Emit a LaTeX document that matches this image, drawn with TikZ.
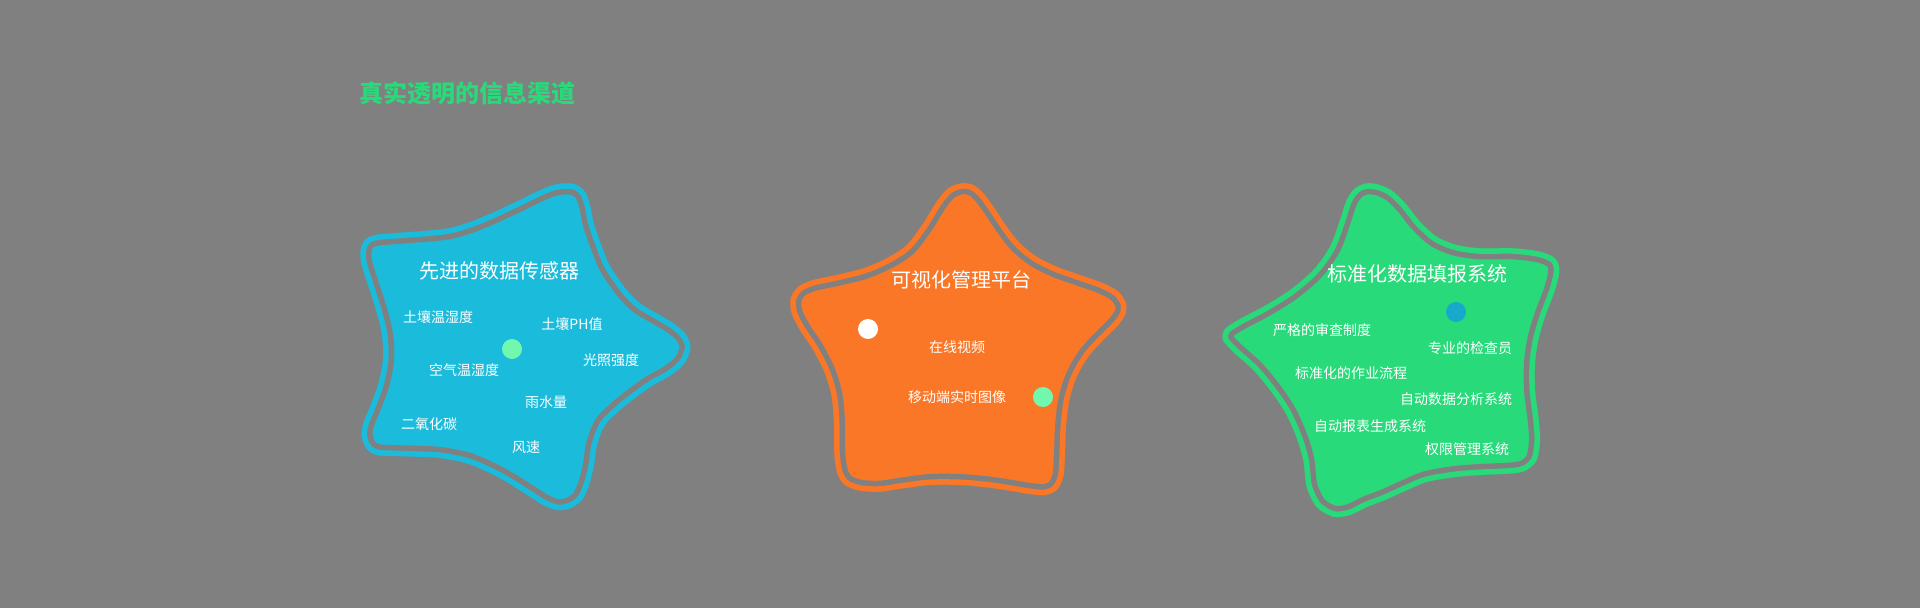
\documentclass[tikz,border=0pt]{standalone}
\usepackage{fontspec}
\setmainfont{Noto Sans CJK SC}
\definecolor{bggray}{HTML}{808080}
\definecolor{cblue}{HTML}{1BBBDB}
\definecolor{corange}{HTML}{FA7728}
\definecolor{cgreen}{HTML}{28DA7A}
\definecolor{dotgreen}{HTML}{72F8AE}
\definecolor{dotblue}{HTML}{17A9C9}
\newcommand\blobshape[2]{%
  \fill[#1] plot[smooth cycle,tension=0.5] coordinates {#2};
  \begin{scope}
    \clip plot[smooth cycle,tension=0.5] coordinates {#2};
    \draw[line width=22pt,bggray] plot[smooth cycle,tension=0.5] coordinates {#2};
    \draw[line width=11pt,#1] plot[smooth cycle,tension=0.5] coordinates {#2};
  \end{scope}}
\tikzset{
  item/.style={text=white,inner sep=0pt,font=\fontsize{14}{16}\selectfont},
  ttl/.style={text=white,inner sep=0pt,font=\fontsize{20}{24}\selectfont},
  dot/.style={circle,inner sep=0pt,minimum size=20pt}
}
\begin{document}
\begin{tikzpicture}[x=1pt,y=-1pt]
\fill[bggray] (0,0) rectangle (1920,608);
\useasboundingbox (0,0) rectangle (1920,608);
\node[anchor=west,inner sep=0pt,text=cgreen,font=\fontsize{24}{28}\selectfont\bfseries] (title) at (359,93) {真实透明的信息渠道};
% blue star
\blobshape{cblue}{(520,200) (536.7,191.7) (553.3,185) (566.7,183.3) (576.7,185) (585,191.7) (590,205) (593.3,221.7) (600,241.7) (610,266) (626.7,290) (640,303.3) (656.7,313.3) (673.3,323.3) (685,333.3) (690.5,346) (687,359) (680,368) (668,377) (653.3,385) (636.7,396.7) (620,410) (605,425) (597,445) (594,465) (589,485) (582,500) (570,508.3) (556.7,510) (543.3,505) (530,496.7) (510,484) (490,473) (466.7,463.3) (440,458) (416.7,456.7) (395,456) (377,455) (366.7,449) (361.7,436.7) (363.3,423.3) (370,406.7) (378,385) (383,360) (382,335) (376,310) (368,285) (361,262) (361,248) (366,239) (375,235) (390,233.5) (410,232) (430,230.5) (450,228) (470,222) (490,214) (505,207)}
\node[ttl] (b0) at (499,271) {先进的数据传感器};
\node[item] (b1) at (438,317) {土壤温湿度};
\node[item] (b2) at (572,324) {土壤PH值};
\node[item] (b3) at (611,360) {光照强度};
\node[item] (b4) at (464,370) {空气温湿度};
\node[item] (b5) at (546,402) {雨水量};
\node[item] (b6) at (429,424) {二氧化碳};
\node[item] (b7) at (526,447) {风速};
\node[dot,fill=dotgreen] (bd) at (512,349) {};
% orange star
\blobshape{corange}{(961.7,183.3) (973.3,185) (983.3,193.3) (993.3,206.7) (1006.7,226.7) (1020,243.3) (1036.7,256.7) (1056.7,266.7) (1080,275) (1103.3,283.3) (1118.3,291.7) (1126,303.3) (1125,315) (1116.7,326.7) (1103.3,340) (1088.3,356.7) (1076.7,376.7) (1069.3,400) (1066,426.7) (1065,453.3) (1063.3,476.7) (1056.7,490) (1045,495) (1030,494) (1010,490.7) (986.7,487.3) (960,485) (930,485) (903.3,488.3) (880,491.7) (860,490.7) (845,485) (837.3,473.3) (834.3,453.3) (834,423.3) (831.7,396.7) (825,373.3) (813.3,350) (800,330) (791.7,313.3) (790.7,298.3) (798.3,286.7) (813.3,280) (836.7,275) (863.3,268.3) (886.7,258.3) (906.7,245) (923.3,223.3) (936.7,201.7) (948.3,188.3)}
\node[ttl] (o0) at (961,280) {可视化管理平台};
\node[item] (o1) at (957,347) {在线视频};
\node[item] (o2) at (957,397) {移动端实时图像};
\node[dot,fill=white] (od1) at (868,329) {};
\node[dot,fill=dotgreen] (od2) at (1043,397) {};
% green star
\blobshape{cgreen}{(1366.7,183.3) (1380,185) (1393.3,191.7) (1406.7,205) (1420,221.7) (1436.7,236.7) (1456.7,245) (1480,248.3) (1513.3,248.3) (1540,251.7) (1555,258.3) (1559.3,270) (1555,290) (1545,316.7) (1538.3,340) (1535,363.3) (1535,390) (1538.3,416.7) (1540,440) (1536.7,460) (1526.7,470) (1513.3,473.3) (1480,475) (1455,477) (1426.7,482) (1405,491) (1385,500) (1366.7,507) (1350,515) (1333.3,516.7) (1316.7,507) (1306.7,487) (1303.3,460) (1296,436) (1285,412) (1270,390) (1253.3,370) (1233.3,352) (1223,340) (1225,329) (1240,319) (1263.3,306.7) (1290,290) (1313.3,270) (1330,246.7) (1340,220) (1346.7,200) (1355,188.3)}
\node[ttl] (g0) at (1417,274) {标准化数据填报系统};
\node[dot,fill=dotblue] (gd) at (1456,312) {};
\node[item] (g1) at (1322,330) {严格的审查制度};
\node[item] (g2) at (1470,348) {专业的检查员};
\node[item] (g3) at (1351,373) {标准化的作业流程};
\node[item] (g4) at (1456,399) {自动数据分析系统};
\node[item] (g5) at (1370,426) {自动报表生成系统};
\node[item] (g6) at (1467,449) {权限管理系统};
\end{tikzpicture}
\end{document}
